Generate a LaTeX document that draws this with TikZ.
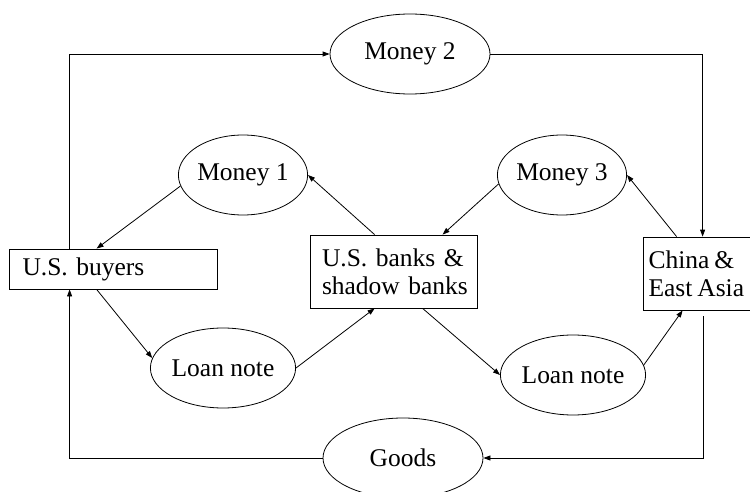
\documentclass[tikz,border=0pt]{standalone}
\usepackage{fontspec}
\setmainfont{Liberation Serif}
\usetikzlibrary{arrows.meta,shapes.geometric}
\begin{document}
\begin{tikzpicture}[x=1pt,y=-1pt,
  every node/.style={font=\fontsize{25.5}{28}\selectfont},
  oval/.style={draw,ellipse,inner sep=0pt,line width=0.8pt},
  box/.style={draw,rectangle,inner sep=0pt,line width=0.8pt},
  arr/.style={line width=0.8pt,-{Triangle[length=7pt,width=5pt]}},
  ln/.style={line width=0.8pt}]
\useasboundingbox (0,0) rectangle (750,492);
\clip (0,0) rectangle (750,492);
\node[oval,minimum width=160pt,minimum height=80pt] (m2) at (410,54) {Money 2};
\node[oval,minimum width=120pt,minimum height=80pt] (m1) at (243,175) {Money 1};
\node[oval,minimum width=107pt,minimum height=80pt] (m3) at (562,175) {Money 3};
\node[oval,minimum width=133pt,minimum height=80pt] (l1) at (223,368) {Loan note};
\node[oval,minimum width=127pt,minimum height=80pt] (l2) at (573,375) {Loan note};
\node[oval,minimum width=160pt,minimum height=80pt] (goods) at (403,458) {Goods};
\node[box,minimum width=208pt,minimum height=40pt,text width=199pt,align=left] (buyers) at (113,269) {\hspace*{9pt}U.S. buyers};
\node[box,minimum width=167pt,minimum height=73pt,text width=159pt,align=left] (banks) at (393.5,271.5) {\hspace*{8pt}U.S. banks \&\\\hspace*{8pt}shadow banks};
\node[box,minimum width=127pt,minimum height=73pt,text width=118pt,align=left] (china) at (706.5,273.5) {\spaceskip=5pt\hspace*{1pt}China \&\\\hspace*{1pt}East Asia};
\coordinate (cg) at (703,316);
% connectors
\draw[arr] ([xshift=61pt]buyers.north west) |- (m2.west);
\draw[arr] (m2.east) -| ([xshift=60pt]china.north west);
\draw[arr] (m1.190) -- ([xshift=88pt]buyers.north west);
\draw[arr] ([xshift=65pt]banks.north west) -- (m1.east);
\draw[arr] (m3.188) -- ([xshift=133pt]banks.north west);
\draw[arr] ([xshift=34pt]china.north west) -- (m3.east);
\draw[arr] ([xshift=88pt]buyers.south west) -- (l1.172);
\draw[arr] (l1.east) -- ([xshift=65pt]banks.south west);
\draw[arr] ([xshift=113pt]banks.south west) -- (l2.west);
\draw[arr] (l2.8) -- ([xshift=40pt]china.south west);
\draw[arr] (cg) |- (goods.east);
\draw[arr] (goods.west) -| ([xshift=61pt]buyers.south west);
\end{tikzpicture}
\end{document}
